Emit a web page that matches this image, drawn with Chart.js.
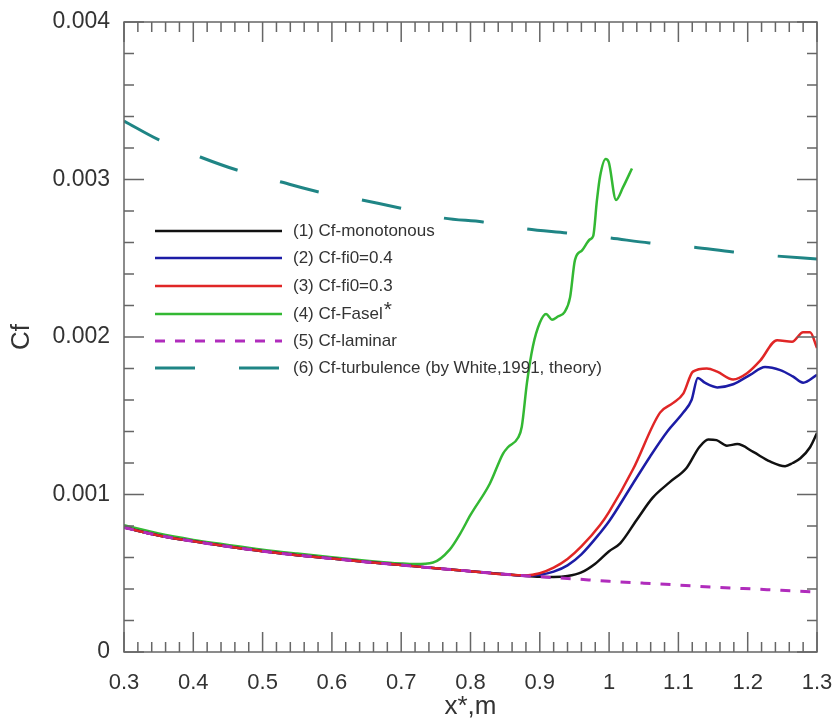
<!DOCTYPE html>
<html>
<head>
<meta charset="utf-8">
<script src="https://cdn.jsdelivr.net/npm/chart.js@4.4.0/dist/chart.umd.min.js"></script>
<style>
  html, body { margin: 0; padding: 0; background: #fff; }
  #wrap { width: 837px; height: 724px; }
</style>
</head>
<body>
<div id="wrap"><canvas id="cfChart" width="837" height="724"></canvas></div>
<script>
// x positions (m) and Cf values
const monoX = [0.30, 0.35, 0.40, 0.45, 0.50, 0.55, 0.60, 0.65, 0.70, 0.75, 0.80, 0.85, 0.88, 0.90, 0.92, 0.94, 0.96, 0.98, 1.00, 1.016, 1.04, 1.063, 1.088, 1.112, 1.13, 1.143, 1.155, 1.17, 1.185, 1.208, 1.232, 1.254, 1.265, 1.276, 1.29, 1.30];
const monoY = [0.00079, 0.00074, 0.000703, 0.00067, 0.00064, 0.000615, 0.000593, 0.000572, 0.000552, 0.000532, 0.000513, 0.000493, 0.000483, 0.000478, 0.000476, 0.000482, 0.000505, 0.00056, 0.00064, 0.00069, 0.00084, 0.00098, 0.00108, 0.00117, 0.0013, 0.00135, 0.001345, 0.00131, 0.00132, 0.00127, 0.00121, 0.00118, 0.0012, 0.00123, 0.0013, 0.00139];

const fi04X = [0.30, 0.35, 0.40, 0.45, 0.50, 0.55, 0.60, 0.65, 0.70, 0.75, 0.80, 0.85, 0.88, 0.90, 0.92, 0.94, 0.96, 0.987, 1.00, 1.0345, 1.059, 1.084, 1.107, 1.119, 1.128, 1.138, 1.156, 1.179, 1.2035, 1.225, 1.247, 1.265, 1.28, 1.30];
const fi04Y = [0.00079, 0.00074, 0.000703, 0.00067, 0.00064, 0.000615, 0.000593, 0.000572, 0.000552, 0.000532, 0.000513, 0.000493, 0.000484, 0.00049, 0.00051, 0.00055, 0.00062, 0.000756, 0.00083, 0.00107, 0.00124, 0.0014, 0.00152, 0.0016, 0.00174, 0.00171, 0.00168, 0.0017, 0.00176, 0.00181, 0.00179, 0.00175, 0.00171, 0.00176];

const fi03X = [0.30, 0.35, 0.40, 0.45, 0.50, 0.55, 0.60, 0.65, 0.70, 0.75, 0.80, 0.85, 0.88, 0.90, 0.92, 0.94, 0.96, 0.987, 1.00, 1.0345, 1.0735, 1.092, 1.107, 1.121, 1.141, 1.156, 1.179, 1.199, 1.218, 1.2424, 1.264, 1.28, 1.29, 1.30];
const fi03Y = [0.00079, 0.00074, 0.000703, 0.00067, 0.00064, 0.000615, 0.000593, 0.000572, 0.000552, 0.000532, 0.000513, 0.000493, 0.000486, 0.0005, 0.000535, 0.00059, 0.00067, 0.000806, 0.00089, 0.00116, 0.00152, 0.00158, 0.00164, 0.00178, 0.0018, 0.00178, 0.00173, 0.00177, 0.00185, 0.00198, 0.00197, 0.00203, 0.00203, 0.00193];

const faselX = [0.30, 0.35, 0.40, 0.45, 0.50, 0.55, 0.60, 0.65, 0.70, 0.72, 0.746, 0.77, 0.785, 0.80, 0.828, 0.847, 0.854, 0.8686, 0.874, 0.8815, 0.89, 0.90, 0.909, 0.9176, 0.926, 0.936, 0.9436, 0.9508, 0.961, 0.9724, 0.977, 0.9825, 0.987, 0.995, 0.9995, 1.01, 1.02, 1.033];
const faselY = [0.000805, 0.000752, 0.000712, 0.00068, 0.00065, 0.000625, 0.000602, 0.00058, 0.000562, 0.000558, 0.000568, 0.00065, 0.00075, 0.00087, 0.00107, 0.00126, 0.0013, 0.00136, 0.00143, 0.00171, 0.00194, 0.00209, 0.002146, 0.00211, 0.00213, 0.00216, 0.00225, 0.00249, 0.00255, 0.00262, 0.00264, 0.00287, 0.00302, 0.00313, 0.00311, 0.00287, 0.00295, 0.00307];

const laminarX = [0.30, 0.35, 0.40, 0.45, 0.50, 0.55, 0.60, 0.65, 0.70, 0.75, 0.80, 0.85, 0.90, 0.95, 1.00, 1.05, 1.10, 1.146, 1.177, 1.208, 1.236, 1.268, 1.30];
const laminarY = [0.00079, 0.00074, 0.000703, 0.00067, 0.00064, 0.000615, 0.000593, 0.000572, 0.000552, 0.000532, 0.000513, 0.000493, 0.000478, 0.000464, 0.000449, 0.000437, 0.000425, 0.000413, 0.000406, 0.0004, 0.000394, 0.000387, 0.000381];

const turbX = [0.30, 0.3505, 0.41, 0.463, 0.527, 0.581, 0.643, 0.698, 0.76, 0.818, 0.8815, 0.939, 1.001, 1.058, 1.121, 1.179, 1.242, 1.30];
const turbY = [0.003371, 0.003251, 0.003143, 0.00306, 0.002984, 0.002921, 0.00287, 0.002819, 0.002756, 0.00273, 0.002686, 0.00266, 0.002629, 0.002597, 0.002571, 0.00254, 0.002514, 0.002495];

const seriesLabels = [
    "(1) Cf-monotonous",
    "(2) Cf-fi0=0.4",
    "(3) Cf-fi0=0.3",
    "(4) Cf-Fasel",
    "(5) Cf-laminar",
    "(6) Cf-turbulence (by White,1991, theory)"
];

const yTicks = [0, 0.001, 0.002, 0.003, 0.004];
const xTicks = [0.3, 0.4, 0.5, 0.6, 0.7, 0.8, 0.9, 1.0, 1.1, 1.2, 1.3];

function toPoints(xs, ys) {
    return xs.map((x, i) => ({ x: x, y: ys[i] }));
}

// legend drawn inside the plot, like the original figure
const insideLegend = {
    id: "insideLegend",
    afterDatasetsDraw(chart) {
        const ctx = chart.ctx;
        const x0 = 155, x1 = 282, tx = 293;
        const rows = [231, 258, 286, 314, 341, 368];
        ctx.save();
        chart.data.datasets.forEach((ds, i) => {
            const y = rows[i];
            ctx.beginPath();
            ctx.setLineDash(ds.borderDash || []);
            ctx.lineDashOffset = 0;
            ctx.strokeStyle = ds.borderColor;
            ctx.lineWidth = ds.borderWidth;
            ctx.moveTo(x0, y);
            ctx.lineTo(x1, y);
            ctx.stroke();
            ctx.setLineDash([]);
            ctx.fillStyle = "#333";
            ctx.font = "17px Arial";
            ctx.textBaseline = "middle";
            ctx.textAlign = "left";
            ctx.fillText(ds.label, tx, y);
            if (i === 3) {
                const w = ctx.measureText(ds.label).width;
                ctx.font = "21px Arial";
                ctx.fillText("*", tx + w + 1, y - 4);
            }
        });
        ctx.restore();
    }
};

// box frame with inward major/minor ticks on all four sides
const frameTicks = {
    id: "frameTicks",
    afterDraw(chart) {
        const ctx = chart.ctx;
        const a = chart.chartArea;
        const xs = chart.scales.x, ys = chart.scales.y;
        ctx.save();
        ctx.strokeStyle = "#666";
        ctx.lineWidth = 1.5;
        ctx.strokeRect(a.left, a.top, a.right - a.left, a.bottom - a.top);
        ctx.beginPath();
        for (let i = 0; i <= 50; i++) {
            const px = xs.getPixelForValue(0.3 + i * 0.02);
            const len = i % 5 === 0 ? 20 : 10;
            ctx.moveTo(px, a.bottom); ctx.lineTo(px, a.bottom - len);
            ctx.moveTo(px, a.top); ctx.lineTo(px, a.top + len);
        }
        for (let i = 0; i <= 20; i++) {
            const py = ys.getPixelForValue(i * 0.0002);
            const len = i % 5 === 0 ? 20 : 10;
            ctx.moveTo(a.left, py); ctx.lineTo(a.left + len, py);
            ctx.moveTo(a.right, py); ctx.lineTo(a.right - len, py);
        }
        ctx.stroke();
        ctx.restore();
    }
};

const ctx = document.getElementById("cfChart").getContext("2d");
new Chart(ctx, {
    type: "line",
    data: {
        datasets: [
            { label: seriesLabels[0], data: toPoints(monoX, monoY), borderColor: "#111111", borderWidth: 2.5, order: 4 },
            { label: seriesLabels[1], data: toPoints(fi04X, fi04Y), borderColor: "#1c1ca6", borderWidth: 2.5, order: 3 },
            { label: seriesLabels[2], data: toPoints(fi03X, fi03Y), borderColor: "#e02626", borderWidth: 2.5, order: 2 },
            { label: seriesLabels[3], data: toPoints(faselX, faselY), borderColor: "#33b833", borderWidth: 2.5, order: 5 },
            { label: seriesLabels[4], data: toPoints(laminarX, laminarY), borderColor: "#b02cbc", borderWidth: 3, borderDash: [10, 10], order: 1 },
            { label: seriesLabels[5], data: toPoints(turbX, turbY), borderColor: "#1f8585", borderWidth: 3, borderDash: [40, 44], order: 6 }
        ]
    },
    options: {
        responsive: false,
        animation: false,
        devicePixelRatio: 1,
        elements: {
            point: { radius: 0 },
            line: { cubicInterpolationMode: "monotone", fill: false, borderCapStyle: "butt" }
        },
        layout: { padding: { top: 22, right: 20, left: 0, bottom: 0 } },
        plugins: {
            legend: { display: false },
            tooltip: { enabled: false }
        },
        scales: {
            x: {
                type: "linear",
                min: 0.3,
                max: 1.3,
                afterFit(s) {
                    s.height = 72;
                    s.paddingLeft = 0;
                    s.paddingRight = 0;
                },
                afterBuildTicks(s) {
                    s.ticks = xTicks.map(v => ({ value: v }));
                },
                ticks: {
                    autoSkip: false,
                    maxRotation: 0,
                    padding: 18,
                    color: "#333",
                    font: { family: "Arial", size: 22 },
                    callback: v => String(Math.round(v * 10) / 10)
                },
                grid: { display: false, drawTicks: false },
                border: { display: false },
                title: { display: true, text: "x*,m", color: "#333", font: { family: "Arial", size: 26 }, padding: { top: 0, bottom: 2 } }
            },
            y: {
                type: "linear",
                min: 0,
                max: 0.004,
                afterFit(s) {
                    s.width = 124;
                    s.paddingTop = 0;
                    s.paddingBottom = 0;
                },
                afterBuildTicks(s) {
                    s.ticks = yTicks.map(v => ({ value: v }));
                },
                ticks: {
                    padding: 14,
                    color: "#333",
                    font: { family: "Arial", size: 23 },
                    callback: v => (v === 0 ? "0" : v.toFixed(3))
                },
                grid: { display: false, drawTicks: false },
                border: { display: false },
                title: { display: true, text: "Cf", color: "#333", font: { family: "Arial", size: 26 }, padding: { top: 6, bottom: 0 } }
            }
        }
    },
    plugins: [insideLegend, frameTicks]
});
</script>
</body>
</html>
